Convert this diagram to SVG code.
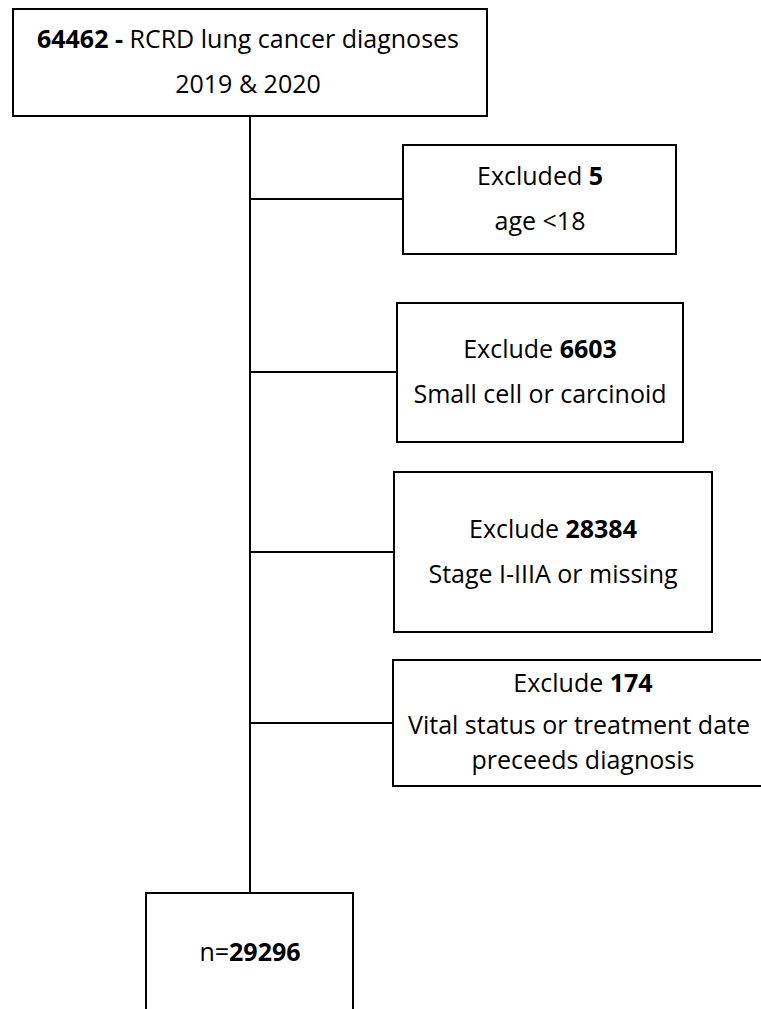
<svg xmlns="http://www.w3.org/2000/svg" width="761" height="1009" viewBox="0 0 761 1009">
<style>
.box{fill:#fff;stroke:#000;stroke-width:2}
.ln{stroke:#000;stroke-width:2;fill:none}
text{font-family:"Open Sans","Noto Sans",sans-serif;font-size:25px;fill:#000;text-anchor:middle}
.b{font-weight:bold}
</style>
<rect width="761" height="1009" fill="#fff"/>
<g id="connectors">
<line class="ln" x1="250" y1="116" x2="250" y2="893"/>
<line class="ln" x1="250" y1="199" x2="403" y2="199"/>
<line class="ln" x1="250" y1="372" x2="397" y2="372"/>
<line class="ln" x1="250" y1="552" x2="394" y2="552"/>
<line class="ln" x1="250" y1="723" x2="393" y2="723"/>
</g>
<g id="start">
<rect class="box" x="13" y="9" width="474" height="107"/>
<text x="248" y="48"><tspan class="b">64462 -</tspan> RCRD lung cancer diagnoses</text>
<text x="248" y="93">2019 &amp; 2020</text>
</g>
<g id="excl1">
<rect class="box" x="403" y="145" width="273" height="109"/>
<text x="540" y="185">Excluded <tspan class="b">5</tspan></text>
<text x="540" y="230">age &lt;18</text>
</g>
<g id="excl2">
<rect class="box" x="397" y="303" width="286" height="139"/>
<text x="540" y="358">Exclude <tspan class="b">6603</tspan></text>
<text x="540" y="403">Small cell or carcinoid</text>
</g>
<g id="excl3">
<rect class="box" x="394" y="472" width="318" height="160"/>
<text x="553" y="538">Exclude <tspan class="b">28384</tspan></text>
<text x="553" y="583">Stage I-IIIA or missing</text>
</g>
<g id="excl4">
<rect class="box" x="393" y="660" width="380" height="126"/>
<text x="583" y="692">Exclude <tspan class="b">174</tspan></text>
<text x="579" y="734">Vital status or treatment date</text>
<text x="583" y="769">preceeds diagnosis</text>
</g>
<g id="final">
<rect class="box" x="146" y="893" width="207" height="130"/>
<text x="250" y="961">n=<tspan class="b">29296</tspan></text>
</g>
</svg>
